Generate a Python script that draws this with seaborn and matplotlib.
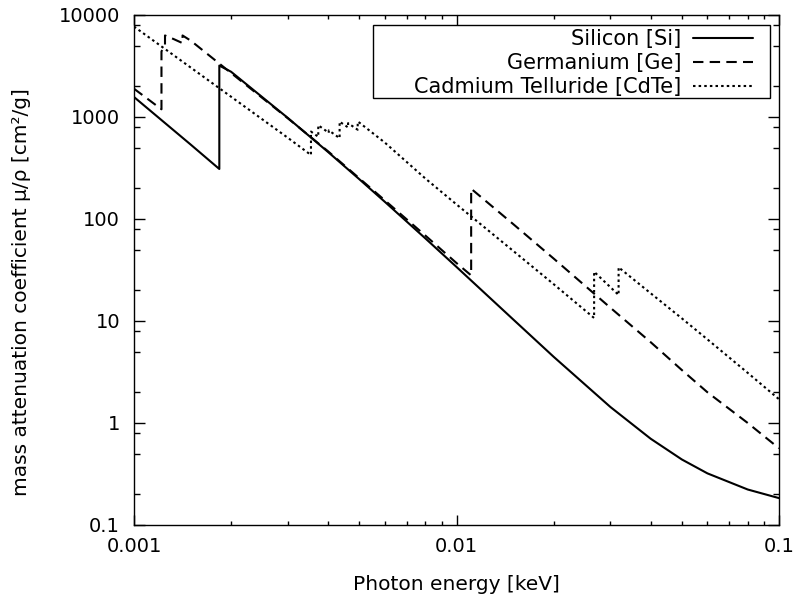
import numpy as np
import pandas as pd
import matplotlib
matplotlib.use("Agg")
import matplotlib.pyplot as plt
import matplotlib.ticker as mticker
from matplotlib.patches import Rectangle
import seaborn as sns

# ---------------- data ----------------
energy_si = [1.0e-3, 1.5e-3, 1.8389e-3, 1.8389e-3, 2.0e-3, 3.0e-3, 4.0e-3, 5.0e-3,
             6.0e-3, 8.0e-3, 1.0e-2, 1.5e-2, 2.0e-2, 3.0e-2, 4.0e-2, 5.0e-2,
             6.0e-2, 8.0e-2, 1.0e-1]
mu_si = [1570, 535.5, 309.2, 3192, 2777, 978.4, 452.9, 245.0,
         147.0, 64.68, 33.89, 10.34, 4.464, 1.436, 0.7012, 0.4385,
         0.3207, 0.2228, 0.1835]

energy_ge = [1.0e-3, 1.1030e-3, 1.2167e-3, 1.2167e-3, 1.2321e-3, 1.2478e-3, 1.2478e-3,
             1.3284e-3, 1.4142e-3, 1.4142e-3, 1.5e-3, 2.0e-3, 3.0e-3, 4.0e-3, 5.0e-3,
             6.0e-3, 8.0e-3, 1.0e-2, 1.1103e-2, 1.1103e-2, 1.5e-2, 2.0e-2, 3.0e-2,
             4.0e-2, 5.0e-2, 6.0e-2, 8.0e-2, 1.0e-1]
mu_ge = [1893, 1502, 1190, 4389, 4734, 5100, 6299,
         5800, 5300, 6300, 5600, 2700, 970, 460, 250,
         152, 69, 37, 28, 198, 89, 41, 13.5,
         6.2, 3.3, 2.0, 1.0, 0.565]

energy_cdte = [1.0e-3, 1.5e-3, 2.0e-3, 3.0e-3, 3.538e-3, 3.538e-3, 3.727e-3, 3.727e-3,
               4.018e-3, 4.018e-3, 4.341e-3, 4.341e-3, 4.612e-3, 4.612e-3, 4.939e-3,
               4.939e-3, 5.0e-3, 6.0e-3, 8.0e-3, 1.0e-2, 1.5e-2, 2.0e-2, 2.6711e-2,
               2.6711e-2, 3.1814e-2, 3.1814e-2, 4.0e-2, 5.0e-2, 6.0e-2, 8.0e-2, 1.0e-1]
mu_cdte = [7700, 3050, 1580, 625, 424, 720, 640, 830,
           700, 740, 620, 900, 790, 870, 750,
           900, 880, 560, 250, 139, 48.6, 23, 10.7,
           30.4, 18.0, 33.6, 18.7, 10.6, 6.6, 3.1, 1.71]

series_labels = ["Silicon [Si]", "Germanium [Ge]", "Cadmium Telluride [CdTe]"]
x_ticks = [0.001, 0.01, 0.1]
x_tick_labels = ["0.001", "0.01", "0.1"]
y_ticks = [0.1, 1, 10, 100, 1000, 10000]
y_tick_labels = ["0.1", "1", "10", "100", "1000", "10000"]

# ---------------- style ----------------
sns.set_style("ticks")
plt.rcParams["font.family"] = ["DejaVu Sans"]
FS = 14
FS_LAB = 14.5
FS_LEG = 15

fig = plt.figure(figsize=(7.97, 6.01), dpi=100)
ax = fig.add_axes([134 / 797, 1 - 525 / 601, (779 - 134) / 797, (525 - 15) / 601])

styles = ["-", (0, (5, 3)), (0, (1.2, 1.5))]
datasets = [(energy_si, mu_si), (energy_ge, mu_ge), (energy_cdte, mu_cdte)]
handles = []
for (e, m), ls, lab in zip(datasets, styles, series_labels):
    df = pd.DataFrame({"energy": e, "mu": m})
    sns.lineplot(data=df, x="energy", y="mu", sort=False, estimator=None,
                 ax=ax, color="black", linestyle=ls, linewidth=1.5, label=lab,
                 legend=False)
    handles.append(ax.lines[-1])

ax.set_xscale("log")
ax.set_yscale("log")
ax.set_xlim(0.001, 0.1)
ax.set_ylim(0.1, 10000)

ax.xaxis.set_major_locator(mticker.FixedLocator(x_ticks))
ax.xaxis.set_major_formatter(mticker.FixedFormatter(x_tick_labels))
ax.xaxis.set_minor_locator(mticker.LogLocator(base=10, subs=np.arange(2, 10), numticks=20))
ax.xaxis.set_minor_formatter(mticker.NullFormatter())
ax.yaxis.set_major_locator(mticker.FixedLocator(y_ticks))
ax.yaxis.set_major_formatter(mticker.FixedFormatter(y_tick_labels))
ax.yaxis.set_minor_locator(mticker.LogLocator(base=10, subs=[2, 5, 8], numticks=20))
ax.yaxis.set_minor_formatter(mticker.NullFormatter())

for sp in ax.spines.values():
    sp.set_visible(True)
    sp.set_color("black")
    sp.set_linewidth(1.0)

ax.tick_params(axis="both", which="both", direction="in", top=True, right=True,
               color="black", width=1.0, labelsize=FS, labelcolor="black")
ax.tick_params(axis="x", which="major", length=7, pad=9)
ax.tick_params(axis="x", which="minor", length=3)
ax.tick_params(axis="y", which="major", length=8, pad=10)
ax.tick_params(axis="y", which="minor", length=4.5)

ax.set_xlabel("Photon energy [keV]", fontsize=FS_LAB, color="black", labelpad=13)
ax.set_ylabel("mass attenuation coefficient μ/ρ [cm²/g]", fontsize=FS_LAB,
              color="black")
ax.yaxis.set_label_coords(-103 / 645, (525 - 292) / 510)

# legend box (drawn separately to mimic gnuplot's key)
rect = Rectangle((373 / 797, 1 - 98 / 601), 397 / 797, 73 / 601,
                 transform=fig.transFigure, facecolor="white", edgecolor="black",
                 linewidth=1.0, zorder=5, clip_on=False)
ax.add_patch(rect)
leg = ax.legend(handles=handles, labels=series_labels, loc="upper right",
                bbox_to_anchor=(753 / 797, 1 - 29 / 601), bbox_transform=fig.transFigure,
                frameon=False, markerfirst=False, fontsize=FS_LEG, handlelength=2.9,
                handletextpad=0.55, labelspacing=0.2, borderpad=0, borderaxespad=0)
leg.set_zorder(10)
for t in leg.get_texts():
    t.set_color("black")

fig.savefig("out.png", dpi=100)
